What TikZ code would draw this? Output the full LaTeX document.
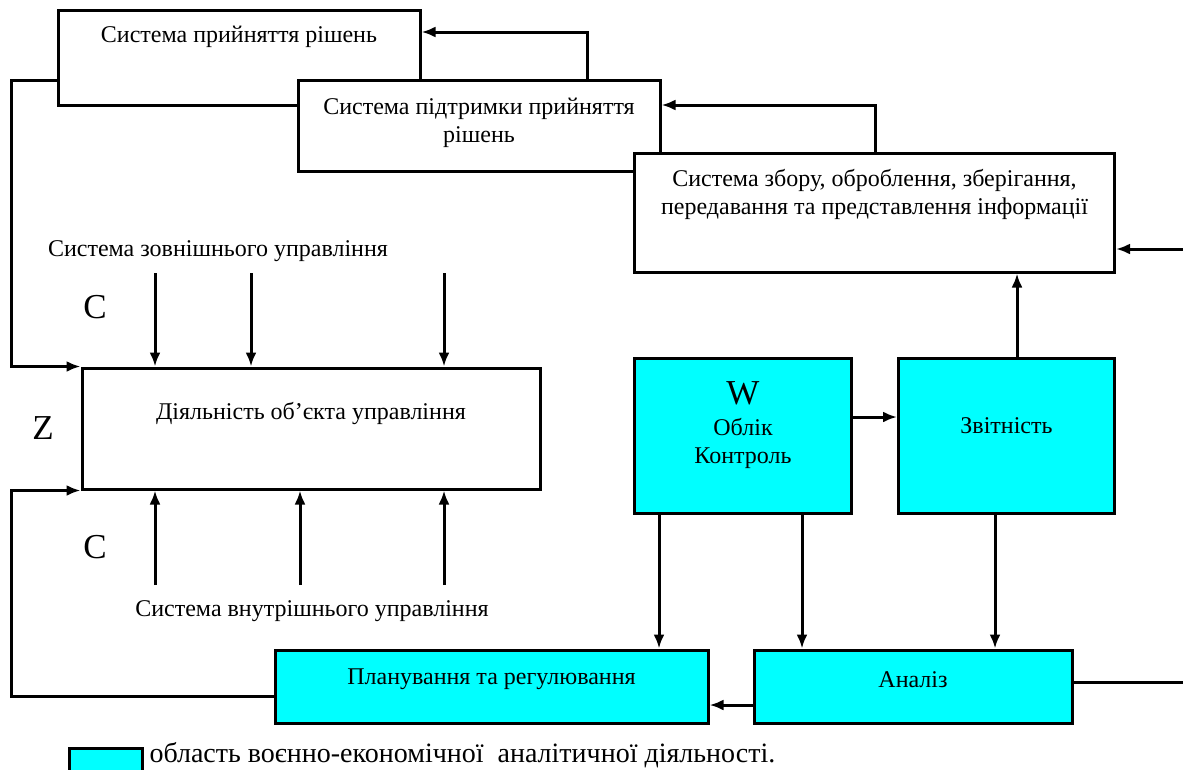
\documentclass[tikz,border=0pt]{standalone}
\usepackage{fontspec}
\setmainfont{Liberation Serif}
\usetikzlibrary{arrows.meta}
\definecolor{areacyan}{RGB}{0,255,255}
\begin{document}
\begin{tikzpicture}[x=1pt,y=-1pt,line width=3pt,>={Latex[length=14pt,width=11pt]},
  box/.style={draw,fill=white,line width=3pt,inner sep=0pt},
  cbox/.style={box,fill=areacyan},
  txt/.style={font=\fontsize{24}{28}\selectfont,align=center,anchor=center,inner sep=0pt},
  big/.style={font=\fontsize{35}{35}\selectfont,inner sep=0pt}]
  \useasboundingbox (0,0) rectangle (1183,769);
  % system blocks
  \node[box,minimum width=362,minimum height=95,label={[txt,yshift=-28pt]north:{Система прийняття рішень}}] (pr) at (239,57.5) {};
  \node[box,minimum width=362,minimum height=91,label={[txt,yshift=-44pt]north:{Система підтримки прийняття\\рішень}}] (sppr) at (479,125.5) {};
  \node[box,minimum width=480,minimum height=119,label={[txt,yshift=-43pt]north:{Система збору, оброблення, зберігання,\\передавання та представлення інформації}}] (sz) at (874.5,212.5) {};
  \node[box,minimum width=458,minimum height=121,label={[txt,yshift=-47pt]north:{Діяльність об’єкта управління}}] (do) at (311,428.5) {};
  % analytical area
  \node[cbox,minimum width=217,minimum height=155,label={[big,anchor=center,yshift=-36pt]north:W},label={[txt,yshift=-86pt]north:{Облік\\Контроль}}] (w) at (743,436) {};
  \node[cbox,minimum width=216,minimum height=155,label={[txt,yshift=-69pt]north:Звітність}] (zv) at (1006.5,436) {};
  \node[cbox,minimum width=433,minimum height=73,label={[txt,yshift=-31pt]north:{Планування та регулювання}}] (pl) at (491.5,686.5) {};
  \node[cbox,minimum width=318,minimum height=73,label={[txt,yshift=-31pt]north:Аналіз}] (an) at (913,686.5) {};
  % free texts
  \node[txt] (ext) at (218,251) {Система зовнішнього управління};
  \node[txt] (int) at (312,611) {Система внутрішнього управління};
  \node[big] (c1) at (95,307) {C};
  \node[big] (z) at (43,428) {Z};
  \node[big] (c2) at (95,547) {C};
  % legend
  \node[cbox,minimum width=73,minimum height=34] (leg) at (105.5,765) {};
  \node[txt,font=\fontsize{28}{28}\selectfont,anchor=base west] (legtxt) at (148,762) {область воєнно-економічної \ аналітичної діяльності.};
  \coordinate (rin) at (1183,249);
  \coordinate (rout) at (1183,682);
  % connectors
  \draw[->] (pr.west |- 0,80) -- (11,80) |- (do.north west);
  \draw[->] (pl.west |- 0,696) -- (11,696) |- (do.south west);
  \foreach \x in {155,251,444} \draw[->] (\x,273) -- (\x,0 |- do.north);
  \foreach \x in {155,300,444} \draw[->] (\x,585) -- (\x,0 |- do.south);
  \draw[->] (875,0 |- sz.north) |- (sppr.east |- 0,105);
  \draw[->] (587,0 |- sppr.north) |- (pr.east |- 0,32);
  \draw[->] (rin) -- (rin -| sz.east);
  \draw[->] (1017,0 |- zv.north) -- (1017,0 |- sz.south);
  \draw[->] (w.east |- 0,417) -- (zv.west |- 0,417);
  \draw[->] (659,0 |- w.south) -- (659,0 |- pl.north);
  \draw[->] (802,0 |- w.south) -- (802,0 |- an.north);
  \draw[->] (995,0 |- zv.south) -- (995,0 |- an.north);
  \draw[->] (an.west |- 0,705) -- (pl.east |- 0,705);
  \draw (an.east |- rout) -- (rout);
\end{tikzpicture}
\end{document}
